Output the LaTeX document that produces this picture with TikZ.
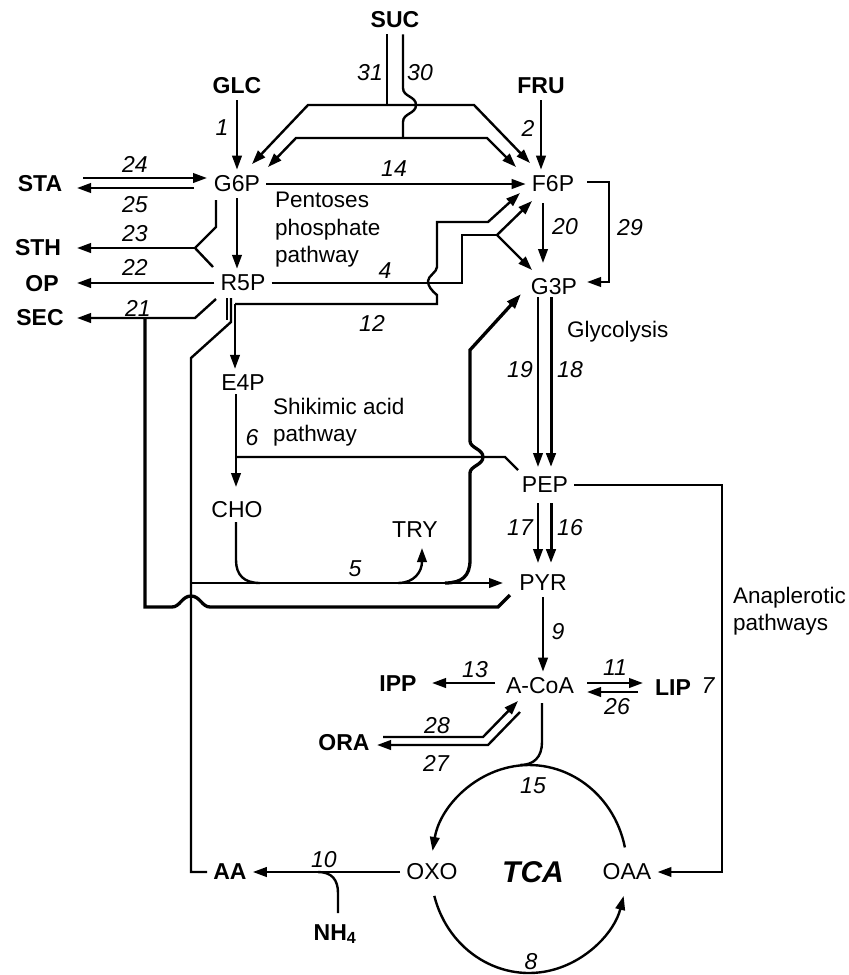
\documentclass[tikz,border=0pt]{standalone}
\usepackage{fontspec}
\setmainfont{Liberation Sans}
\usetikzlibrary{arrows.meta}
\tikzset{
  met/.style={font=\fontsize{23}{27}\selectfont, inner sep=6pt},
  ext/.style={font=\fontsize{23}{27}\selectfont\bfseries, inner sep=6pt},
  num/.style={font=\fontsize{23}{27}\selectfont\itshape, inner sep=1pt},
  txt/.style={font=\fontsize{22.5}{27.5}\selectfont, align=left, anchor=west, inner sep=0pt},
  ln/.style={line width=2.4pt},
  lnb/.style={line width=3.3pt},
  ar/.style={-{Triangle[length=14pt,width=9.5pt]}, line width=2.4pt},
  arb/.style={-{Triangle[length=15pt,width=10pt]}, line width=3.3pt},
}
\begin{document}
\begin{tikzpicture}[x=1pt,y=-1pt,line join=miter]
  \useasboundingbox (0,0) rectangle (849,975);

  % substrates and products
  \node[ext] (SUC) at (395,20) {SUC};
  \node[ext] (GLC) at (237,86) {GLC};
  \node[ext] (FRU) at (541,86) {FRU};
  \node[ext] (STA) at (40,184) {STA};
  \node[ext] (STH) at (38,248) {STH};
  \node[ext] (OP) at (42,284) {OP};
  \node[ext] (SEC) at (40,318) {SEC};
  \node[ext] (IPP) at (398,684) {IPP};
  \node[ext] (LIP) at (673,688) {LIP};
  \node[ext] (ORA) at (344,743) {ORA};
  \node[ext] (AA) at (230,872) {AA};
  \node[ext] (NH) at (335,934) {NH\textsubscript{4}};

  % intermediates
  \node[met] (G6P) at (237,184) {G6P};
  \node[met] (F6P) at (553,184) {F6P};
  \node[met] (R5P) at (243,283) {R5P};
  \node[met] (G3P) at (554,287) {G3P};
  \node[met] (E4P) at (243,383) {E4P};
  \node[met] (CHO) at (237,510) {CHO};
  \node[met] (TRY) at (415,530) {TRY};
  \node[met] (PEP) at (545,485) {PEP};
  \node[met] (PYR) at (543,583) {PYR};
  \node[met] (ACoA) at (540,686) {A-CoA};
  \node[met] (OXO) at (432,872) {OXO};
  \node[met] (OAA) at (627,872) {OAA};
  \node[font=\fontsize{30}{34}\selectfont\bfseries\itshape] (TCA) at (533,872) {TCA};

  % pathway names
  \node[txt] (ppp) at (275,230) {Pentoses\\phosphate\\pathway};
  \node[txt] (shk) at (273,422) {Shikimic acid\\pathway};
  \node[txt] (gly) at (567,332) {Glycolysis};
  \node[txt] (ana) at (733,611) {Anaplerotic\\pathways};

  % sucrose
  \coordinate (t31) at (387,105);
  \coordinate (t30) at (403,138);
  \draw[ln] (t31 |- SUC.south) -- (t31);
  \draw[ar] (t31) -- (308,105) -- (252,164);
  \draw[ar] (t31) -- (474,105) -- (530,163);
  \draw[ln] (t30 |- SUC.south) -- (403,88) .. controls (403,97) and (416,96) .. (416,105)
    .. controls (416,114) and (403,113) .. (403,122) -- (t30);
  \draw[ar] (t30) -- (296,138) -- (268,167);
  \draw[ar] (t30) -- (487,138) -- (516,167);
  \draw[ar] (GLC) -- (G6P);
  \draw[ar] (FRU) -- (FRU |- F6P.north);
  \draw[ar] (G6P) -- (F6P);

  % starch, storage, secretion
  \draw[ar] (83,178) -- (207,178);
  \draw[ar] (194,188) -- (77,188);
  \draw[ar] (G6P) -- (G6P |- R5P.north);
  \draw[ln] (216,200) -- (216,227) -- (195,248) -- (213,267);
  \draw[ar] (195,248) -- (77,248);
  \draw[ar] (R5P) -- (77,283);
  \draw[ar] (216,299) -- (195,318) -- (77,318);
  \draw[lnb] (145,318) -- (145,607) -- (172,607) .. controls (180,607) and (182,596) .. (191,596)
    .. controls (200,596) and (202,607) .. (210,607) -- (498,607) -- (510,595);

  % pentoses phosphate
  \draw[ln] (227,298) -- (227,320);
  \draw[ln] (231,298) -- (231,322) -- (191,358) -- (191,872) -- (AA.west);
  \coordinate (j12) at (235,304);
  \draw[ar] (j12) -- (j12 |- E4P.north);
  \draw[ar] (j12) -- (437,304) -- (437,295) .. controls (431,290) and (428,286) .. (428,281)
    .. controls (428,276) and (437,272) .. (437,267) -- (437,222) -- (488,222) -- (520,193);
  \coordinate (b4) at (497,235);
  \draw[ln] (R5P.east) -- (462,283) -- (462,235) -- (b4);
  \draw[ar] (b4) -- (532,201);
  \draw[ar] (b4) -- (532,270);

  % glycolysis
  \draw[ar] (543,203) -- (543,263);
  \draw[ar] (587,182) -- (609,182) -- (609,282) -- (587,282);
  \draw[ar] (538,297) -- (538,467);
  \draw[ar, line width=3pt] (551,297) -- (551,467);
  \draw[ar] (538,503) -- (538,563);
  \draw[ar, line width=3pt] (551,503) -- (551,563);

  % shikimic acid
  \draw[ar] (236,394) -- (236,487);
  \draw[ln] (236,457) -- (505,457) -- (518,470);
  \draw[ln] (236,522) -- (236,560) .. controls (236,575) and (244,583) .. (260,583);
  \draw[ar] (191,583) -- (503,583);
  \draw[ar] (398,583) .. controls (414,583) and (422,572) .. (422,548);
  \draw[arb] (445,583) .. controls (462,583) and (470,576) .. (470,560) -- (470,473)
    .. controls (470,466) and (483,465) .. (483,457) .. controls (483,449) and (470,448) .. (470,441)
    -- (470,350) -- (521,294);

  % anaplerotic
  \draw[ar] (PEP.east) -- (722,485) -- (722,872) -- (OAA.east);

  % acetyl-CoA
  \draw[ar] (PYR) -- (PYR |- ACoA.north);
  \draw[ar] (495,683) -- (432,683);
  \draw[ar] (587,683) -- (643,683);
  \draw[ar] (638,692) -- (587,692);
  \draw[ar] (383,737) -- (483,737) -- (518,701);
  \draw[ar] (520,712) -- (488,745) -- (377,745);
  \draw[ln] (542,703) -- (542,742) .. controls (542,757) and (534,765) .. (520,765);

  % TCA cycle
  \draw[ar] (624.9,847.4) arc[start angle=-12, end angle=-170, x radius=98, y radius=104];
  \draw[ar] (434.3,895.9) arc[start angle=165, end angle=15, x radius=98, y radius=104];
  \draw[ar] (OXO) -- (AA);
  \draw[ln] (338,913) -- (338,893) .. controls (338,880) and (332,872) .. (318,872);

  % reaction numbers
  \node[num] (n31) at (370,73) {31};
  \node[num] (n30) at (420,73) {30};
  \node[num] (n1) at (222,128) {1};
  \node[num] (n2) at (528,128) {2};
  \node[num] (n14) at (394,169) {14};
  \node[num] (n24) at (135,164) {24};
  \node[num] (n25) at (135,205) {25};
  \node[num] (n23) at (135,234) {23};
  \node[num] (n22) at (135,267) {22};
  \node[num] (n21) at (138,308) {21};
  \node[num] (n4) at (385,271) {4};
  \node[num] (n12) at (372,323) {12};
  \node[num] (n20) at (565,227) {20};
  \node[num] (n29) at (630,228) {29};
  \node[num] (n19) at (520,370) {19};
  \node[num] (n18) at (570,370) {18};
  \node[num] (n6) at (252,438) {6};
  \node[num] (n17) at (520,528) {17};
  \node[num] (n16) at (570,528) {16};
  \node[num] (n5) at (355,569) {5};
  \node[num] (n9) at (558,632) {9};
  \node[num] (n13) at (475,670) {13};
  \node[num] (n11) at (615,668) {11};
  \node[num] (n26) at (617,707) {26};
  \node[num] (n7) at (708,686) {7};
  \node[num] (n28) at (437,726) {28};
  \node[num] (n27) at (436,763) {27};
  \node[num] (n15) at (533,786) {15};
  \node[num] (n10) at (324,860) {10};
  \node[num] (n8) at (531,962) {8};
\end{tikzpicture}
\end{document}
